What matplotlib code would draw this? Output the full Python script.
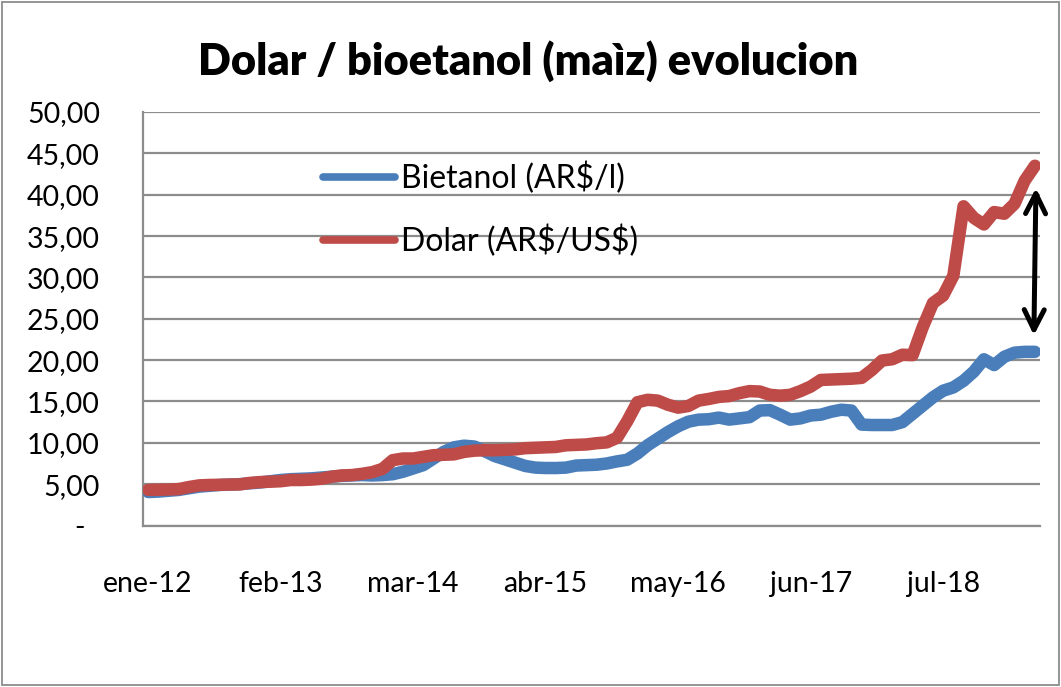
import matplotlib
matplotlib.use("Agg")
import matplotlib.pyplot as plt
from matplotlib.lines import Line2D
from matplotlib.patches import Rectangle
from matplotlib.ticker import FixedLocator, FuncFormatter

# ---- data (monthly, Jan 2012 - Apr 2019) ----
month_abbr = ["ene", "feb", "mar", "abr", "may", "jun",
              "jul", "ago", "sep", "oct", "nov", "dic"]
start_year = 2012
n_months = 88
categories = [f"{month_abbr[k % 12]}-{(start_year + k // 12) % 100:02d}" for k in range(n_months)]

bietanol = [4.05, 4.10, 4.20, 4.30, 4.50, 4.70, 4.80, 4.90, 4.95, 5.00,
            5.10, 5.20, 5.35, 5.50, 5.60, 5.65, 5.70, 5.80, 5.90, 6.00,
            6.05, 6.10, 6.05, 6.10, 6.20, 6.50, 6.90, 7.30, 8.10, 8.90,
            9.45, 9.65, 9.55, 9.00, 8.40, 8.00, 7.60, 7.20, 7.00, 6.95,
            6.95, 7.00, 7.25, 7.30, 7.35, 7.50, 7.75, 7.95, 8.70, 9.70,
            10.50, 11.30, 12.00, 12.55, 12.80, 12.85, 13.05, 12.80, 12.95, 13.10,
            13.90, 13.95, 13.40, 12.80, 12.95, 13.30, 13.40, 13.75, 14.00, 13.90,
            12.20, 12.15, 12.15, 12.15, 12.50, 13.50, 14.50, 15.50, 16.30, 16.70,
            17.50, 18.60, 20.10, 19.40, 20.40, 20.90, 21.00, 21.00]

dolar = [4.30, 4.32, 4.35, 4.40, 4.65, 4.85, 4.90, 4.92, 4.95, 4.97,
         5.15, 5.25, 5.30, 5.35, 5.50, 5.50, 5.55, 5.65, 5.90, 6.05,
         6.10, 6.25, 6.45, 6.85, 7.90, 8.10, 8.10, 8.30, 8.50, 8.55,
         8.60, 8.90, 9.05, 9.10, 9.10, 9.15, 9.20, 9.35, 9.40, 9.45,
         9.50, 9.70, 9.75, 9.80, 9.95, 10.05, 10.60, 12.60, 14.90, 15.20,
         15.10, 14.60, 14.25, 14.45, 15.10, 15.30, 15.55, 15.65, 16.00, 16.25,
         16.20, 15.80, 15.70, 15.80, 16.25, 16.80, 17.60, 17.65, 17.70, 17.75,
         17.85, 18.80, 19.95, 20.10, 20.65, 20.60, 24.00, 26.90, 27.80, 30.20,
         38.60, 37.20, 36.40, 37.90, 37.70, 38.90, 41.70, 43.50]

series_labels = ["Bietanol (AR\\$/l)", "Dolar (AR\\$/US\\$)"]
title_text = "Dolar / bioetanol (maìz) evolucion"
x_tick_step = 13
y_ticks = [0, 5, 10, 15, 20, 25, 30, 35, 40, 45, 50]
arrow_top = 40.8
arrow_bottom = 23.0

# ---- style ----
FONT = ["Lato", "DejaVu Sans"]
plt.rcParams["font.family"] = FONT
BLUE = "#4A7EBB"
RED = "#BE4B48"
GRID = "#8C8C8C"

W, H = 1061, 687
fig = plt.figure(figsize=(W / 100, H / 100), dpi=100)
fig.patch.set_facecolor("white")
fig.patches.append(Rectangle((2 / W, 2 / H), 1 - 4 / W, 1 - 4 / H,
                             transform=fig.transFigure, fill=False,
                             edgecolor="#8C8C8C", lw=1.3))

L, R, T, B = 143, 1040, 112, 525.5
ax = fig.add_axes([L / W, 1 - B / H, (R - L) / W, (B - T) / H])

x = list(range(n_months))
ax.plot(x, bietanol, color=BLUE, lw=9, solid_joinstyle="round",
        solid_capstyle="round", zorder=3)
ax.plot(x, dolar, color=RED, lw=9, solid_joinstyle="round",
        solid_capstyle="round", zorder=4)

ax.set_xlim(-0.5, n_months - 0.5)
ax.set_ylim(0, 50)

ax.yaxis.set_major_locator(FixedLocator(y_ticks))
ax.yaxis.set_major_formatter(FuncFormatter(
    lambda v, p: "-  " if v == 0 else f"{v:.2f}".replace(".", ",")))
tick_pos = list(range(0, n_months, x_tick_step))
ax.set_xticks(tick_pos)
ax.set_xticklabels([categories[i] for i in tick_pos])

ax.grid(axis="y", color=GRID, lw=1.6, zorder=1)
ax.set_axisbelow(True)
for s in ["top", "right"]:
    ax.spines[s].set_visible(False)
for s in ["left", "bottom"]:
    ax.spines[s].set_color(GRID)
    ax.spines[s].set_linewidth(1.6)
ax.tick_params(axis="both", length=0, labelsize=20.5, colors="black")
ax.tick_params(axis="y", pad=31)
ax.tick_params(axis="x", pad=33)

# arrow
ax.annotate("", xy=(n_months - 0.9, arrow_top), xytext=(n_months - 1.1, arrow_bottom),
            arrowprops=dict(arrowstyle="<->", lw=3.6, color="black",
                            mutation_scale=36, shrinkA=0, shrinkB=0), zorder=6)

# legend
handles = [Line2D([], [], color=BLUE, lw=5.5, solid_capstyle="round"),
           Line2D([], [], color=RED, lw=5.5, solid_capstyle="round")]
leg = ax.legend(handles, series_labels, loc="upper left",
                bbox_to_anchor=(323 / W, 1 - 162 / H), bbox_transform=fig.transFigure,
                frameon=False, fontsize=23, handlelength=2.25, handletextpad=0.18,
                labelspacing=0.95, borderpad=0, borderaxespad=0)

fig.text(528 / W, 1 - 61 / H, title_text, ha="center", va="center",
         fontsize=31.2, fontweight="heavy")

fig.savefig("out.png", dpi=100, facecolor="white")
